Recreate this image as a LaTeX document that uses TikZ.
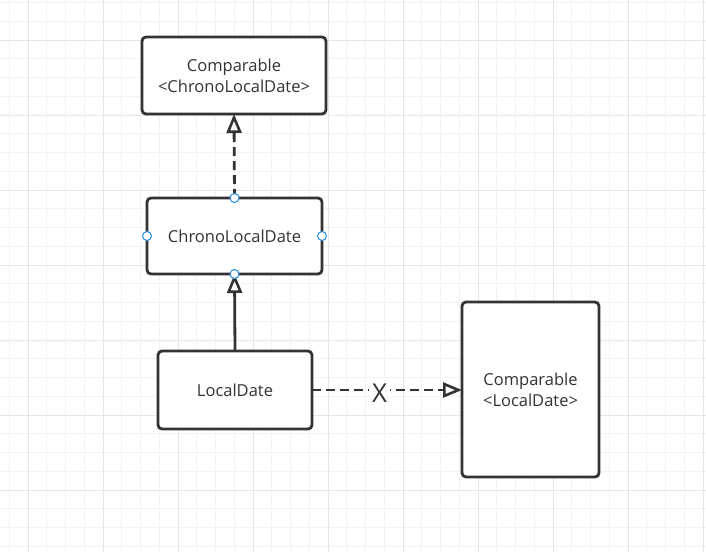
\documentclass[tikz,border=0pt]{standalone}
\usepackage{fontspec}
\setmainfont{Open Sans}
\usetikzlibrary{arrows.meta}
\definecolor{ink}{HTML}{333333}
\definecolor{gridminor}{HTML}{F3F3F3}
\definecolor{gridmajor}{HTML}{E6E6E6}
\definecolor{handle}{HTML}{2A8CE8}
\tikzset{
  umlbox/.style={draw=ink, line width=2.8pt, fill=white, rounded corners=4pt,
    inner sep=0pt, outer sep=0pt, align=center, text=ink, font=\fontsize{16.5}{21}\selectfont},
  conn/.style={draw=ink, line width=2.8pt, -{Triangle[open, length=19pt, width=15pt, line width=2.6pt]}},
  dashconn/.style={conn, dash pattern=on 9pt off 5pt},
  handledot/.style={circle, draw=handle, fill=white, line width=1pt, minimum size=9pt, inner sep=0pt}
}
\begin{document}
\begin{tikzpicture}[x=1pt,y=-1pt]
\useasboundingbox (0,0) rectangle (706,552);
\fill[white] (0,0) rectangle (706,552);
% minor grid
\foreach \i in {0,...,38} {
  \draw[gridminor, line width=1pt] ({9.25+18.75*\i},0) -- ({9.25+18.75*\i},552);
}
\foreach \i in {0,...,30} {
  \draw[gridminor, line width=1pt] (0,{2.5+18.75*\i}) -- (706,{2.5+18.75*\i});
}
% major grid
\foreach \i in {0,...,9} {
  \draw[gridmajor, line width=1pt] ({28+75*\i},0) -- ({28+75*\i},552);
}
\foreach \i in {0,...,7} {
  \draw[gridmajor, line width=1pt] (0,{40+75*\i}) -- (706,{40+75*\i});
}
% nodes
\node[umlbox, minimum width=184pt, minimum height=77pt] (cmpc) at (234,75.5) {Comparable\\\textless ChronoLocalDate\textgreater};
\node[umlbox, minimum width=175pt, minimum height=76pt] (cld) at (234.5,236) {ChronoLocalDate};
\node[umlbox, minimum width=154pt, minimum height=78pt] (ld) at (235,390) {LocalDate};
\node[umlbox, minimum width=137pt, minimum height=175pt] (cmpl) at (530.5,389.5) {Comparable\\\textless LocalDate\textgreater};
% connectors
\draw[dashconn] (cld.north) -- (cmpc.south);
\draw[conn] (ld.north) -- (cld.south);
\draw[dashconn] (ld.east) -- node[pos=0.45, yshift=-3pt, fill=white, inner xsep=3pt, inner ysep=1pt, text=ink, font=\fontsize{26}{26}\selectfont] (xlab) {X} (ld.east -| cmpl.west);
% selection handles
\node[handledot] (h1) at (cld.north) {};
\node[handledot] (h2) at (cld.south) {};
\node[handledot] (h3) at (cld.west) {};
\node[handledot] (h4) at (cld.east) {};
\end{tikzpicture}
\end{document}
